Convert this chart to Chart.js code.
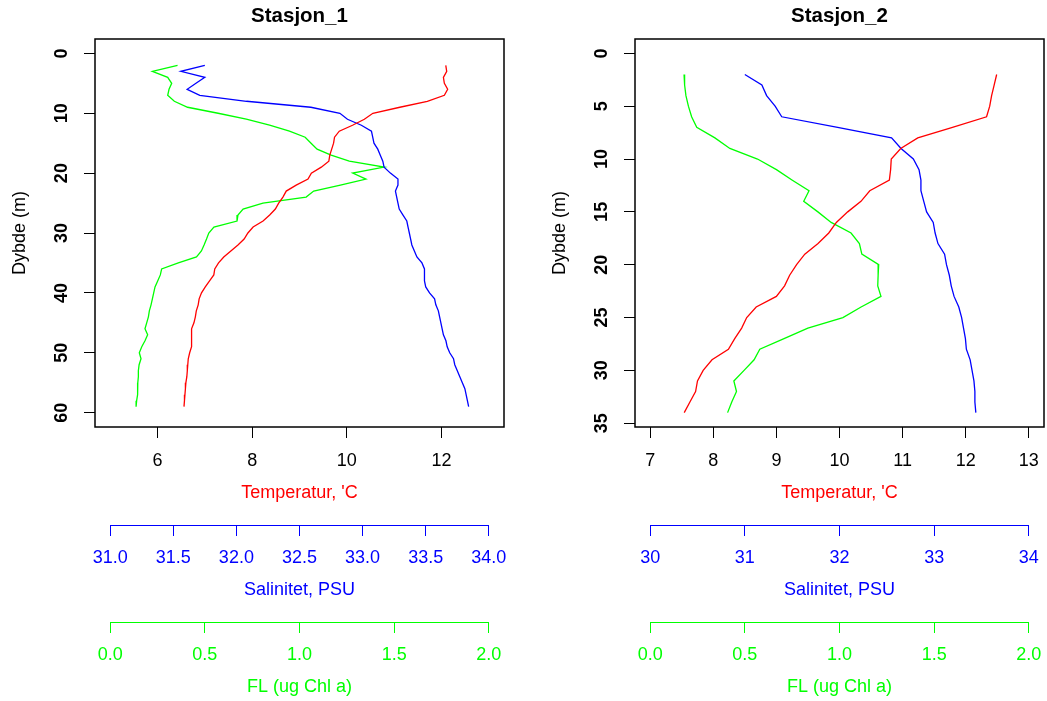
<!DOCTYPE html>
<html>
<head>
<meta charset="utf-8">
<script src="https://cdn.jsdelivr.net/npm/chart.js@4.4.1/dist/chart.umd.min.js"></script>
<style>
  body { margin: 0; background: #fff; overflow: hidden; }
  #c1 { position: absolute; left: 0; top: 0; }
  #c2 { position: absolute; left: 540px; top: 0; }
</style>
</head>
<body>
<canvas id="c1" width="540" height="701"></canvas>
<canvas id="c2" width="507" height="701"></canvas>
<script>
// Stasjon_1 profiles, one value per metre
const depth1 = [2,3,4,5,6,7,8,9,10,11,12,13,14,15,16,17,18,19,20,21,22,23,24,25,26,27,28,29,30,
  31,32,33,34,35,36,37,38,39,40,41,42,43,44,45,46,47,48,49,50,51,52,53,54,55,56,57,58,59];
const temp1 = [12.09,12.11,12.04,12.06,12.13,12.06,11.70,11.12,10.55,10.37,
  10.12,9.84,9.74,9.72,9.68,9.64,9.62,9.46,9.25,9.18,
  8.93,8.72,8.65,8.56,8.49,8.37,8.23,8.02,7.91,7.83,
  7.70,7.55,7.40,7.29,7.21,7.19,7.10,7.01,6.93,6.88,
  6.86,6.82,6.80,6.77,6.72,6.72,6.72,6.72,6.68,6.65,
  6.64,6.63,6.62,6.60,6.59,6.58,6.57,6.56];
const sal1 = [31.75,31.56,31.75,31.68,31.61,31.71,32.08,32.59,32.82,32.88,
  32.99,33.07,33.08,33.09,33.12,33.14,33.16,33.17,33.22,33.28,
  33.28,33.26,33.27,33.28,33.29,33.32,33.35,33.36,33.37,33.38,
  33.39,33.41,33.43,33.47,33.49,33.49,33.49,33.50,33.53,33.57,
  33.58,33.60,33.61,33.62,33.63,33.64,33.66,33.67,33.69,33.72,
  33.73,33.75,33.77,33.79,33.81,33.82,33.83,33.84];
const fl1 = [0.356,0.223,0.304,0.325,0.311,0.304,0.339,0.409,0.570,0.719,
  0.842,0.947,1.030,1.061,1.093,1.167,1.263,1.447,1.281,1.351,
  1.216,1.075,1.035,0.807,0.702,0.675,0.670,0.548,0.521,0.509,
  0.496,0.482,0.456,0.360,0.272,0.265,0.251,0.237,0.230,0.223,
  0.216,0.207,0.202,0.193,0.184,0.198,0.184,0.167,0.154,0.163,
  0.153,0.149,0.149,0.146,0.146,0.144,0.140,0.137];

// Stasjon_2
const depth2 = [2,3,4,5,6,7,8,9,10,11,12,13,14,15,16,17,18,19,20,21,22,23,24,25,26,27,28,29,30,31,32,33,34];
const temp2 = [12.49,12.45,12.41,12.38,12.33,11.79,11.24,10.97,10.82,10.81,
  10.79,10.48,10.34,10.13,9.95,9.83,9.66,9.45,9.32,9.21,
  9.13,9.00,8.68,8.53,8.45,8.34,8.24,7.98,7.84,7.75,
  7.72,7.63,7.54];
const sal2 = [31.00,31.18,31.23,31.32,31.39,31.98,32.55,32.65,32.78,32.84,
  32.86,32.86,32.89,32.92,32.99,33.01,33.04,33.11,33.13,33.16,
  33.18,33.21,33.26,33.29,33.31,33.33,33.34,33.38,33.40,33.42,
  33.43,33.43,33.44];
const fl2 = [0.179,0.182,0.189,0.202,0.219,0.246,0.342,0.421,0.567,0.667,
  0.751,0.839,0.811,0.886,0.956,1.061,1.105,1.118,1.207,1.204,
  1.202,1.219,1.114,1.018,0.833,0.707,0.579,0.549,0.496,0.442,
  0.456,0.431,0.409];

// axis limits and ticks
const depthLim1 = [0, 60];
const depthTicks1 = [0,10,20,30,40,50,60];
const tempLim1 = [5, 13];
const tempTicks1 = [6,8,10,12];
const salLim1 = [31, 34];
const salTicks1 = [31,31.5,32,32.5,33,33.5,34];

const depthLim2 = [0, 34];
const depthTicks2 = [0,5,10,15,20,25,30,35];
const tempLim2 = [7, 13];
const tempTicks2 = [7,8,9,10,11,12,13];
const salLim2 = [30, 34];
const salTicks2 = [30,31,32,33,34];

const flLim = [0, 2];
const flTicks = [0,0.5,1,1.5,2];

Chart.defaults.font.family = '"Liberation Sans", Arial, Helvetica, sans-serif';
Chart.defaults.font.size = 18;
Chart.defaults.color = '#000';

// R style axis range: 4% extra on each side
function rRange(lim) {
  const pad = (lim[1] - lim[0]) * 0.04;
  return {min: lim[0] - pad, max: lim[1] + pad};
}

const framePlugin = {
  id: 'frame',
  afterDraw(chart) {
    const ctx = chart.ctx;
    const a = chart.chartArea;
    ctx.save();
    ctx.strokeStyle = '#000';
    ctx.lineWidth = 1.5;
    ctx.strokeRect(a.left, a.top, a.right - a.left, a.bottom - a.top);
    // extra axes only run from first to last tick, like axis() in R
    ['xS', 'xF'].forEach(function (id) {
      const s = chart.scales[id];
      const t = s.ticks;
      ctx.strokeStyle = s.options.grid.color;
      ctx.lineWidth = 1;
      ctx.beginPath();
      ctx.moveTo(s.getPixelForValue(t[0].value), s.top + 0.5);
      ctx.lineTo(s.getPixelForValue(t[t.length - 1].value), s.top + 0.5);
      ctx.stroke();
    });
    ctx.restore();
  }
};

function xAxis(lim, ticks, tickColor, labelColor, titleColor, title, weight, height, pad, titlePad, fmt) {
  return Object.assign({
    type: 'linear',
    position: 'bottom',
    weight: weight,
    bounds: 'data',
    afterBuildTicks: function (s) { s.ticks = ticks.map(v => ({value: v})); },
    afterFit: function (s) { s.height = height; s.paddingLeft = 0; s.paddingRight = 0; },
    border: {display: false},
    grid: {drawOnChartArea: false, drawTicks: true, tickLength: 11, color: tickColor, tickColor: tickColor, lineWidth: 1},
    ticks: {color: labelColor, padding: pad, autoSkip: false, maxRotation: 0,
      callback: function (v) { return fmt(v); }},
    title: {display: true, text: title, color: titleColor, padding: {top: 0, bottom: titlePad}}
  }, rRange(lim));
}

function makeChart(id, station, depth, temp, sal, fl, lims, rightPad) {
  const line = (vals, axis, color) => ({
    data: depth.map((d, i) => ({x: vals[i], y: d})),
    xAxisID: axis,
    yAxisID: 'y',
    showLine: true,
    pointRadius: 0,
    borderColor: color,
    borderWidth: 1.3,
    tension: 0
  });
  const salFmt = lims.salTicks.some(v => v % 1 !== 0) ? (v => v.toFixed(1)) : (v => String(v));
  return new Chart(document.getElementById(id), {
    type: 'scatter',
    data: {
      datasets: [
        line(temp, 'xT', '#ff0000'),
        line(sal, 'xS', '#0000ff'),
        line(fl, 'xF', '#00ff00')
      ]
    },
    options: {
      responsive: false,
      animation: false,
      layout: {padding: {left: 0, right: rightPad, top: 0, bottom: 0}},
      plugins: {
        legend: {display: false},
        tooltip: {enabled: false},
        title: {
          display: true,
          text: station,
          fullSize: false,
          color: '#000',
          font: {size: 20.5, weight: 'bold'},
          padding: {top: 3.8, bottom: 10.6}
        }
      },
      scales: Object.assign({
        y: Object.assign({
          type: 'linear',
          position: 'left',
          reverse: true,
          bounds: 'data',
          afterBuildTicks: function (s) { s.ticks = lims.depthTicks.map(v => ({value: v})); },
          afterFit: function (s) { s.width = 95; s.paddingTop = 0; s.paddingBottom = 0; },
          border: {display: false},
          grid: {drawOnChartArea: false, drawTicks: true, tickLength: 11, color: '#000', tickColor: '#000', lineWidth: 1},
          ticks: {color: '#000', font: {weight: 'bold'}, padding: 12, autoSkip: false,
            minRotation: 90, maxRotation: 90, crossAlign: 'center'},
          title: {display: true, text: 'Dybde (m)', color: '#000', padding: {top: 9, bottom: 0}}
        }, rRange(lims.depthLim))
      }, {
        xT: xAxis(lims.tempLim, lims.tempTicks, '#000', '#000', '#ff0000', "Temperatur, 'C", 1, 98, 12, 21.5, v => String(v)),
        xS: xAxis(lims.salLim, lims.salTicks, '#0000ff', '#0000ff', '#0000ff', 'Salinitet, PSU', 2, 97, 11, 21.2, salFmt),
        xF: xAxis(flLim, flTicks, '#00ff00', '#00ff00', '#00ff00', 'FL (ug Chl a)', 3, 79, 11, 3.5, v => v.toFixed(1))
      })
    },
    plugins: [framePlugin]
  });
}

makeChart('c1', 'Stasjon_1', depth1, temp1, sal1, fl1, {
  depthLim: depthLim1, depthTicks: depthTicks1, tempLim: tempLim1, tempTicks: tempTicks1,
  salLim: salLim1, salTicks: salTicks1
}, 36);

makeChart('c2', 'Stasjon_2', depth2, temp2, sal2, fl2, {
  depthLim: depthLim2, depthTicks: depthTicks2, tempLim: tempLim2, tempTicks: tempTicks2,
  salLim: salLim2, salTicks: salTicks2
}, 3);
</script>
</body>
</html>
